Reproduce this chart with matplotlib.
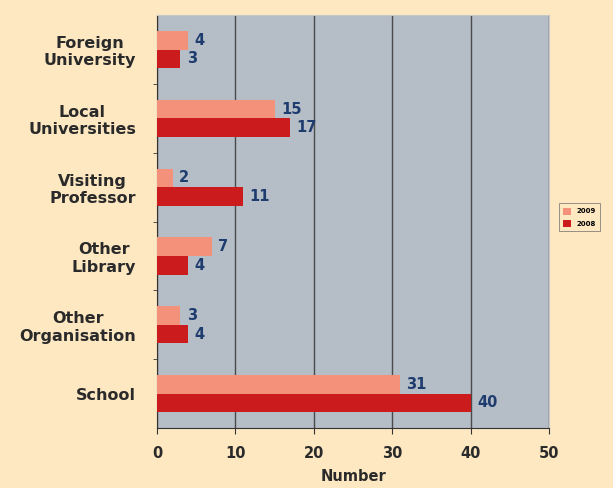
import numpy as np
import matplotlib.pyplot as plt

categories = ["Foreign\nUniversity", "Local\nUniversities", "Visiting\nProfessor",
              "Other\nLibrary", "Other\nOrganisation", "School"]
vals_2009 = [4, 15, 2, 7, 3, 31]
vals_2008 = [3, 17, 11, 4, 4, 40]
xticks = [0, 10, 20, 30, 40, 50]

plt.rcParams['font.family'] = ['DejaVu Sans']
plt.rcParams['font.weight'] = 'bold'

bg = '#fde8c2'
fig = plt.figure(figsize=(6.13, 4.88), dpi=100, facecolor=bg)
ax = fig.add_axes([0.256, 0.123, 0.64, 0.846])
ax.set_facecolor('#b5bdc7')

y = np.arange(len(categories))
h = 0.27
b1 = ax.barh(y - h / 2, vals_2009, height=h, color='#f3917a', label='2009', zorder=3)
b2 = ax.barh(y + h / 2, vals_2008, height=h, color='#cc1b1d', label='2008', zorder=3)

for bars in (b1, b2):
    for r in bars:
        ax.text(r.get_width() + 0.8, r.get_y() + r.get_height() / 2, str(int(r.get_width())),
                va='center', ha='left', color='#1e3c6e', fontsize=10.5, fontweight='bold', zorder=4)

ax.set_xlim(0, 50)
ax.set_ylim(len(categories) - 0.5, -0.5)
ax.set_xticks(xticks)
ax.xaxis.grid(True, color='#4a4a4a', linewidth=1.0, zorder=1)
ax.set_yticks(y)
ax.set_yticklabels(categories, multialignment='center', fontsize=11.5, color='#2a2a2a')
ax.tick_params(axis='y', length=0, pad=15)
ax.set_yticks(np.arange(len(categories) - 1) + 0.5, minor=True)
ax.tick_params(axis='y', which='minor', length=3, color='#333333')
ax.tick_params(axis='x', length=4, color='#333333', labelsize=10.5, labelcolor='#2a2a2a', pad=9)
ax.set_xlabel('Number', fontsize=10.5, fontweight='bold', color='#2a2a2a', labelpad=6)

for s in ['top', 'right']:
    ax.spines[s].set_color('#c8c8c8')
for s in ['left', 'bottom']:
    ax.spines[s].set_color('#333333')

leg = ax.legend(loc='center left', bbox_to_anchor=(1.015, 0.51), fontsize=5,
                frameon=True, facecolor=bg, edgecolor='#666666', fancybox=False,
                handlelength=1.2, handleheight=1.2, borderpad=0.6, labelspacing=0.8)
leg.get_frame().set_linewidth(0.6)

fig.savefig('out.png', dpi=100, facecolor=bg)
